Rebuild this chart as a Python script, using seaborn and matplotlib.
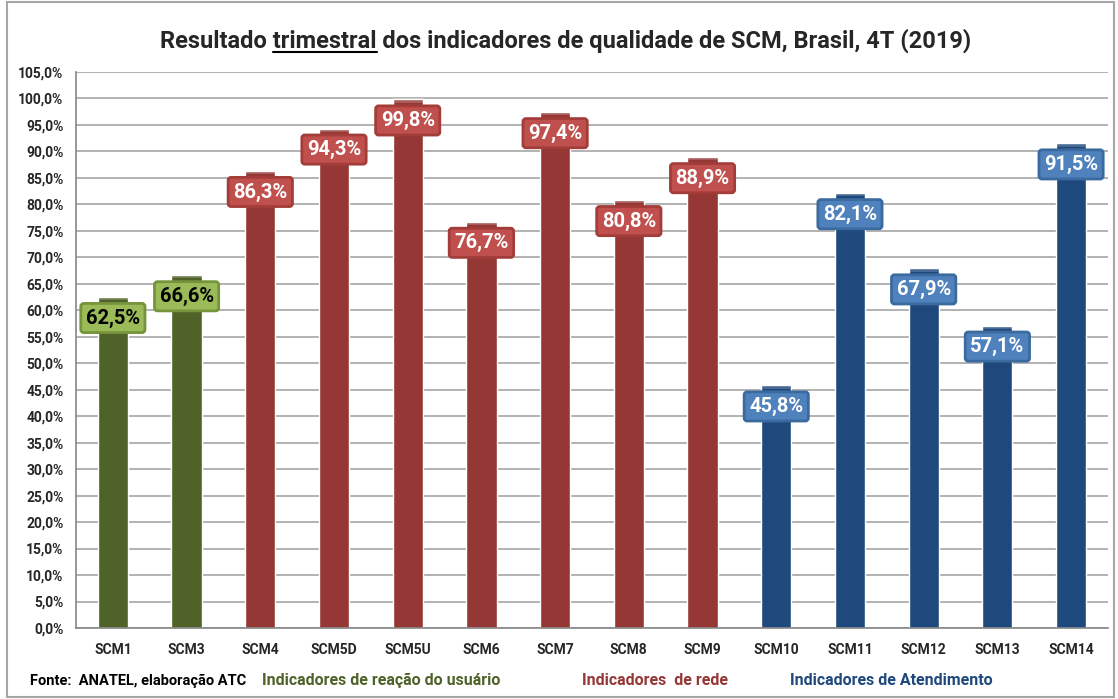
import matplotlib
matplotlib.use('Agg')
import matplotlib.pyplot as plt
import seaborn as sns
import pandas as pd
from matplotlib.patches import Rectangle
from matplotlib.ticker import MultipleLocator, FuncFormatter

categorias = ['SCM1', 'SCM3', 'SCM4', 'SCM5D', 'SCM5U', 'SCM6', 'SCM7',
              'SCM8', 'SCM9', 'SCM10', 'SCM11', 'SCM12', 'SCM13', 'SCM14']
valores = [62.5, 66.6, 86.3, 94.3, 99.8, 76.7, 97.4, 80.8, 88.9,
           45.8, 82.1, 67.9, 57.1, 91.5]
grupos = ['usuario'] * 2 + ['rede'] * 7 + ['atendimento'] * 5

cor_barra = {'usuario': '#4F6228', 'rede': '#953735', 'atendimento': '#1F497D'}
cor_caixa = {'usuario': '#9BBB59', 'rede': '#C0504D', 'atendimento': '#4F81BD'}
cor_borda = {'usuario': '#77933C', 'rede': '#A33D3A', 'atendimento': '#3A6A9E'}
cor_texto = {'usuario': 'black', 'rede': 'white', 'atendimento': 'white'}

df = pd.DataFrame({'cat': categorias, 'valor': valores, 'grupo': grupos})

sns.set_style('white')
plt.rcParams['font.family'] = ['Roboto', 'DejaVu Sans']
plt.rcParams['font.weight'] = 'bold'

fig = plt.figure(figsize=(11.18, 6.99), dpi=100)
ax = fig.add_axes([0.068, 0.1016, 0.923, 0.7955])

sns.barplot(data=df, x='cat', y='valor', hue='grupo', palette=cor_barra,
            dodge=False, width=0.41, legend=False, ax=ax, saturation=1)

# tampa levemente mais clara no topo das barras
for p in ax.patches:
    h = p.get_height()
    if h > 0:
        ax.add_patch(Rectangle((p.get_x() - 0.01, h - 0.6), p.get_width() + 0.02, 0.9,
                               facecolor='white', alpha=0.18, lw=0, zorder=3))

for i, (v, g) in enumerate(zip(valores, grupos)):
    txt = f'{v:.1f}%'.replace('.', ',')
    ax.annotate(txt, (i, v), xytext=(0, -21), textcoords='offset pixels',
                ha='center', va='center', fontsize=14.5, fontweight='bold',
                color=cor_texto[g], zorder=5,
                bbox=dict(boxstyle='round,pad=0.25,rounding_size=0.15',
                          fc=cor_caixa[g], ec=cor_borda[g], lw=2))

ax.set_ylim(0, 105)
ax.set_xlim(-0.5, len(categorias) - 0.5)
ax.yaxis.set_major_locator(MultipleLocator(5))
ax.yaxis.set_major_formatter(FuncFormatter(lambda y, _: f'{y:.1f}%'.replace('.', ',')))
ax.grid(axis='y', color='#A6A6A6', lw=1.2)
ax.set_axisbelow(True)
ax.set_xlabel('')
ax.set_ylabel('')

for s in ['top', 'right']:
    ax.spines[s].set_visible(False)
for s in ['left', 'bottom']:
    ax.spines[s].set_color('#868686')
    ax.spines[s].set_linewidth(1.2)

ax.set_xticks([i + 0.5 for i in range(-1, len(categorias))], minor=True)
ax.tick_params(axis='x', which='major', length=0, pad=11, labelsize=10)
ax.tick_params(axis='x', which='minor', length=5, color='#868686', direction='out')
ax.tick_params(axis='y', length=5, color='#868686', direction='out', labelsize=10, pad=4)
for lab in ax.get_xticklabels() + ax.get_yticklabels():
    lab.set_fontweight('bold')

# titulo com "trimestral" sublinhado
tam_titulo = 17
titulo = 'Resultado trimestral dos indicadores de qualidade de SCM, Brasil, 4T (2019)'
t = fig.text(0.506, 0.942, titulo, ha='center', va='center', fontsize=tam_titulo, fontweight='bold')
fig.canvas.draw()
r = fig.canvas.get_renderer()
bb = t.get_window_extent(r)
def largura(s):
    tmp = fig.text(0, 0, s, fontsize=tam_titulo, fontweight='bold')
    w = tmp.get_window_extent(r).width
    tmp.remove()
    return w
x0 = bb.x0 + largura('Resultado ')
x1 = bb.x0 + largura('Resultado trimestral')
yline = bb.y0 + 1
fig.add_artist(plt.Line2D([x0 / fig.bbox.width, x1 / fig.bbox.width],
                          [yline / fig.bbox.height] * 2, color='black', lw=1.5))

# rodape
fig.text(0.027, 0.02, 'Fonte:  ANATEL, elaboração ATC', fontsize=10.5, fontweight='bold', color='black')
fig.text(0.234, 0.02, 'Indicadores de reação do usuário', fontsize=11.5, fontweight='bold', color='#4F6228')
fig.text(0.521, 0.02, 'Indicadores  de rede', fontsize=11.5, fontweight='bold', color='#953735')
fig.text(0.707, 0.02, 'Indicadores de Atendimento', fontsize=11.5, fontweight='bold', color='#1F497D')

# moldura
fig.add_artist(Rectangle((0.006, 0.003), 0.99, 0.994, transform=fig.transFigure,
                         fill=False, ec='#A6A6A6', lw=1.5))

fig.savefig('out.png', dpi=100)
